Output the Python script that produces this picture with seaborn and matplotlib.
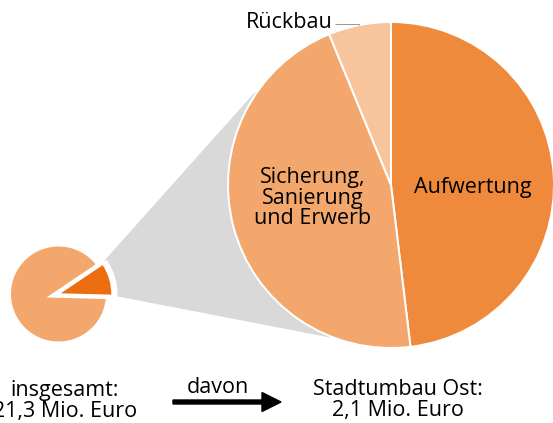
import numpy as np
import matplotlib
matplotlib.use("Agg")
import matplotlib.pyplot as plt
from matplotlib.patches import Polygon
import seaborn as sns

# Total budget vs. the Stadtumbau Ost share (Mio. Euro)
total_labels = ["übrige Mittel", "Stadtumbau Ost"]
total_values = [19.2, 2.1]

# Breakdown of the Stadtumbau Ost share (Mio. Euro)
part_labels = ["Aufwertung", "Sicherung,\nSanierung\nund Erwerb", "Rückbau"]
part_values = [1.01, 0.96, 0.13]

caption_left = "insgesamt:\n21,3 Mio. Euro"
caption_mid = "davon"
caption_right = "Stadtumbau Ost:\n2,1 Mio. Euro"

sns.set_theme(style="white")
plt.rcParams["font.family"] = ["Open Sans", "DejaVu Sans"]
plt.rcParams["text.color"] = "black"

W, H = 553, 423
fig = plt.figure(figsize=(W / 100, H / 100), dpi=100)
ax = fig.add_axes([0, 0, 1, 1])

PX = 72 / 100  # one pixel in points


def Y(py):
    return H - py


c_small = (58.5, Y(294))
c_big = (391.0, Y(185))
r_big = 163.0

col_auf = "#EF8A3C"
col_sich = "#F3A76D"
col_rueck = "#F7C49C"
col_share = "#EB6D10"
col_grey = "#D9D9D9"

# grey connector from the highlighted slice to the detail pie
ax.add_patch(Polygon([(79, Y(289)), (255, Y(92)), c_big, (343, Y(340))],
                     closed=True, facecolor=col_grey, edgecolor="none", zorder=1))

# white halo that separates the highlighted slice from the connector
halo, _ = ax.pie(total_values[::-1], colors=["white", "none"], startangle=-1.5,
                 center=c_small, radius=57.5,
                 wedgeprops=dict(edgecolor="none", linewidth=0))
halo[0].set_edgecolor("white")
halo[0].set_linewidth(3 * PX)
for w in halo:
    w.set_zorder(2)

# overview pie
small, _ = ax.pie(total_values[::-1], colors=[col_share, col_sich], startangle=-1.5,
                  center=c_small, radius=53.5,
                  wedgeprops=dict(edgecolor="white"))
small[0].set_linewidth(1.5 * PX)
small[0].set_zorder(4)
small[1].set_radius(51.3)
small[1].set_linewidth(7.6 * PX)
small[1].set_zorder(3)

# detail pie
big, _ = ax.pie(part_values, colors=[col_auf, col_sich, col_rueck], startangle=90,
                counterclock=False, center=c_big, radius=r_big,
                wedgeprops=dict(edgecolor="white", linewidth=2 * PX))
for w in big:
    w.set_zorder(5)

fs = 15.5
ax.text(473, Y(187), part_labels[0], ha="center", va="center", fontsize=fs, zorder=6)
ax.text(313, Y(198), part_labels[1], ha="center", va="center", fontsize=fs,
        linespacing=0.95, zorder=6)

# leader line for the narrow slice
mid = np.deg2rad((big[2].theta1 + big[2].theta2) / 2)
lx = c_big[0] + r_big * np.cos(mid)
ly = c_big[1] + r_big * np.sin(mid)
ax.plot([lx, lx, 335], [ly, Y(24), Y(24)], color="#999999", lw=1 * PX, zorder=6,
        solid_capstyle="butt")
ax.text(333, Y(22), part_labels[2], ha="right", va="center", fontsize=fs, zorder=6)

ax.text(65, Y(401), caption_left, ha="center", va="center", fontsize=fs,
        linespacing=1.05)
ax.text(398, Y(400), caption_right, ha="center", va="center", fontsize=fs,
        linespacing=1.05)
ax.text(218, Y(387), caption_mid, ha="center", va="center", fontsize=fs)
ax.arrow(173, Y(402), 108, 0, width=4, head_width=19, head_length=19,
         length_includes_head=True, color="black", zorder=6)

ax.set_xlim(0, W)
ax.set_ylim(0, H)
ax.set_aspect("auto")
ax.axis("off")
fig.savefig("out.png", dpi=100)
